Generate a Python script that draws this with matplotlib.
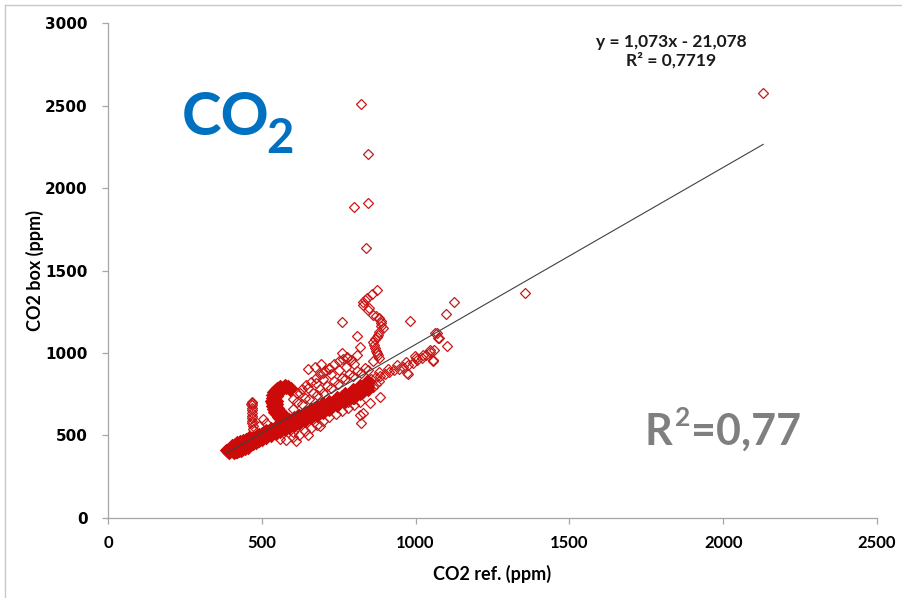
import matplotlib
matplotlib.use("Agg")
import matplotlib.pyplot as plt
from matplotlib.lines import Line2D

# --- data (CO2 ref. vs CO2 box, ppm) ---
band_x = [400, 400, 400, 410, 410, 410, 420, 420, 420, 430, 430, 430,
          440, 440, 440, 450, 450, 450, 460, 460, 460, 470, 470, 470,
          480, 480, 480, 490, 490, 490, 500, 500, 500, 515, 515, 515,
          530, 530, 530, 545, 545, 545, 560, 560, 560, 575, 575, 575,
          590, 590, 590, 605, 605, 605, 620, 620, 620, 640, 640, 640,
          660, 660, 660, 680, 680, 680, 700, 700, 700, 720, 720, 720,
          745, 745, 745, 770, 770, 770, 795, 795, 795, 820, 820, 820,
          845, 845, 845]
band_y = [405, 418, 432, 410, 424, 440, 414, 430, 447, 420, 437, 455,
          427, 445, 463, 433, 452, 472, 441, 460, 481, 449, 468, 490,
          456, 477, 499, 464, 486, 508, 472, 495, 518, 483, 508, 532,
          495, 520, 546, 507, 533, 559, 519, 546, 572, 532, 558, 585,
          545, 571, 598, 557, 584, 611, 570, 597, 624, 587, 614, 641,
          604, 631, 658, 621, 648, 676, 638, 666, 694, 656, 684, 712,
          678, 706, 734, 702, 730, 757, 727, 754, 781, 752, 779, 806,
          778, 805, 831]

band2_x = [400, 400, 410, 410, 420, 420, 430, 430, 440, 440, 450, 450,
           460, 460, 470, 470, 480, 480, 490, 490, 500, 500, 515, 515,
           530, 530, 545, 545, 560, 560, 575, 575, 590, 590, 605, 605,
           620, 620, 640, 640, 660, 660, 680, 680, 700, 700, 720, 720,
           745, 745, 770, 770, 795, 795, 820, 820, 845, 845,
           407, 425, 445, 465, 485, 508, 538, 568, 598, 630, 670, 710,
           733, 758, 783, 808, 833]
band2_y = [411, 425, 417, 432, 422, 438, 428, 446, 436, 454, 442, 462,
           450, 470, 458, 479, 466, 488, 475, 497, 483, 506, 495, 520,
           507, 533, 520, 546, 532, 559, 545, 571, 558, 584, 570, 597,
           583, 610, 600, 627, 617, 644, 634, 662, 652, 680, 670, 698,
           692, 720, 716, 743, 740, 767, 765, 792, 791, 818,
           420, 434, 449, 465, 482, 502, 527, 552, 578, 606, 640, 675,
           695, 718, 742, 766, 792]

base_x = [385, 390, 392, 395, 405, 415, 425, 435, 388, 398, 402, 412,
          420, 428, 395, 410, 420, 432, 445, 455, 438, 448, 458]
base_y = [410, 402, 420, 412, 398, 402, 408, 415, 415, 425, 440, 450,
          460, 465, 395, 395, 400, 405, 420, 425, 470, 480, 490]

hook_x = [590, 585, 578, 570, 562, 555, 549, 545, 542, 540, 539, 540,
          541, 543, 546, 550, 555, 561, 568, 576, 584, 580, 568, 556,
          550, 548, 550, 553, 560, 567, 575,
          592, 596, 586, 574, 560, 550, 543, 538, 534, 532, 531, 532,
          534, 537, 541, 546, 552, 560, 568, 577, 588, 596]
hook_y = [785, 792, 797, 796, 790, 782, 770, 756, 742, 728, 714, 700,
          686, 672, 658, 644, 630, 617, 604, 592, 580, 785, 784, 770,
          740, 710, 690, 668, 650, 635, 620,
          775, 790, 800, 805, 800, 790, 778, 765, 748, 730, 712, 694,
          676, 660, 645, 630, 615, 602, 590, 578, 572, 565]

column_x = [467, 469, 465, 467, 467, 467, 467, 467, 467, 467, 468, 472, 470]
column_y = [700, 695, 690, 682, 668, 652, 636, 620, 604, 589, 574, 556, 538]

fan_x = [490, 505, 515, 600, 615, 630, 640, 655, 665, 680, 690, 700, 712,
         725, 735, 748, 760, 772, 785, 798, 810, 822, 835, 845, 600, 625,
         650, 675, 700, 725, 750, 775, 800, 613, 630, 645, 660, 675, 690,
         705, 720, 735, 750, 765, 776, 650, 672, 692, 700, 720, 790, 810,
         760]
fan_y = [560, 600, 575, 660, 700, 690, 730, 720, 760, 745, 780, 760, 800,
         790, 830, 815, 850, 840, 875, 860, 890, 880, 910, 895, 720, 760,
         790, 820, 840, 870, 895, 915, 935, 756, 780, 805, 825, 848, 870,
         892, 912, 932, 950, 966, 978, 900, 918, 935, 880, 900, 960, 985,
         1000]

low_x = [760, 790, 830, 850, 870, 880, 884, 852, 830, 822, 819, 862, 800,
         780, 820, 560, 580, 600, 620, 640, 660, 680, 700, 610, 650, 690,
         600, 720, 740, 760, 780, 800]
low_y = [745, 760, 760, 790, 810, 830, 735, 697, 634, 574, 624, 796, 720,
         700, 700, 480, 470, 490, 505, 525, 545, 565, 585, 465, 500, 555,
         520, 610, 630, 650, 665, 685]

right_x = [841, 855, 870, 885, 900, 915, 930, 945, 960, 975, 990, 1005,
           1020, 1035, 1047, 880, 910, 940, 970, 1000, 1025, 1060, 976,
           971, 998, 1055, 1057, 1046]
right_y = [836, 845, 852, 862, 872, 882, 895, 905, 917, 928, 940, 955,
           970, 988, 1005, 885, 905, 925, 945, 970, 990, 1020, 873,
           877, 982, 953, 957, 1018]

upper_x = [873, 857, 841, 835, 828, 829, 846, 850, 862, 870, 881, 886,
           889, 888, 894, 881, 877, 873, 868, 862, 865, 868, 870, 873,
           878, 881, 862, 760, 810, 819, 776, 981, 1126, 1098, 1068, 1077,
           1101, 1063, 1074]
upper_y = [1382, 1357, 1331, 1320, 1311, 1291, 1260, 1275, 1230, 1222,
           1212, 1195, 1180, 1165, 1151, 1127, 1112, 1099, 1083, 1068,
           1050, 1030, 1015, 1000, 985, 970, 953, 1190, 1103, 1038, 970,
           1196, 1307, 1236, 1119, 1089, 1042, 1123, 1089]

outlier_x = [822, 845, 845, 800, 838, 1355, 2130]
outlier_y = [2509, 2205, 1912, 1885, 1638, 1365, 2575]

slope = 1.073
intercept = -21.078
equation = "y = 1,073x - 21,078"
r2_text = "R² = 0,7719"

x_ticks = [0, 500, 1000, 1500, 2000, 2500]
y_ticks = [0, 500, 1000, 1500, 2000, 2500, 3000]

# overplotted (dense) parts and sparse parts of the same series
dense_x = band_x + band2_x + base_x + hook_x
dense_y = band_y + band2_y + base_y + hook_y
sparse_x = column_x + fan_x + low_x + right_x + upper_x + outlier_x
sparse_y = column_y + fan_y + low_y + right_y + upper_y + outlier_y
all_x = dense_x + sparse_x

fig = plt.figure(figsize=(9.03, 5.98), dpi=100)
ax = fig.add_axes([0.1196, 0.1338, 0.8516, 0.8277])

ax.plot(sparse_x, sparse_y, linestyle="none", marker="D", ms=4.6,
        mfc="none", mec="#C81818", mew=0.9, zorder=2)
ax.plot(dense_x, dense_y, linestyle="none", marker="D", ms=4.6,
        mfc="none", mec="#CC0A0A", mew=1.8, zorder=2)

x0, x1 = min(all_x), max(all_x)
ax.plot([x0, x1], [slope * x0 + intercept, slope * x1 + intercept],
        color="#404040", lw=0.8, zorder=3)

ax.set_xlim(0, 2500)
ax.set_ylim(0, 3000)
ax.set_xticks(x_ticks)
ax.set_yticks(y_ticks)
for s in ("top", "right"):
    ax.spines[s].set_visible(False)
for s in ("left", "bottom"):
    ax.spines[s].set_color("#A6A6A6")
    ax.spines[s].set_linewidth(0.9)
ax.tick_params(axis="both", direction="out", length=4.5, width=0.9,
               color="#A6A6A6")
ax.tick_params(axis="y", pad=10)
ax.tick_params(axis="x", pad=8)
for lab in ax.get_yticklabels():
    lab.set_fontfamily("DejaVu Sans")
    lab.set_fontweight("bold")
    lab.set_fontsize(11)
for lab in ax.get_xticklabels():
    lab.set_fontfamily("Lato")
    lab.set_fontweight("bold")
    lab.set_fontsize(12)

ax.set_xlabel("CO2 ref. (ppm)", fontfamily="Lato", fontweight="bold",
              fontsize=13, labelpad=10)
ax.set_ylabel("CO2 box (ppm)", fontfamily="Lato", fontweight="bold",
              fontsize=13, labelpad=1)

# trendline label
fig.text(671 / 903, 1 - 42 / 598, equation, ha="center", va="center",
         fontfamily="Lato", fontweight="bold", fontsize=12.5, color="#1a1a1a")
fig.text(671 / 903, 1 - 60 / 598, r2_text, ha="center", va="center",
         fontfamily="Lato", fontweight="bold", fontsize=12.5, color="#1a1a1a")

# big annotations
fig.text(182 / 903, 1 - 135 / 598, "CO", ha="left", va="baseline",
         fontfamily="Lato", fontweight="bold", fontsize=43, color="#0070C0")
fig.text(266 / 903, 1 - 153 / 598, "2", ha="left", va="baseline",
         fontfamily="Lato", fontweight="bold", fontsize=34, color="#0070C0")

fig.text(644 / 903, 1 - 445 / 598, "R", ha="left", va="baseline",
         fontfamily="Lato", fontweight="bold", fontsize=31, color="#7F7F7F")
fig.text(675 / 903, 1 - 426 / 598, "2", ha="left", va="baseline",
         fontfamily="Lato", fontweight="bold", fontsize=19, color="#7F7F7F")
fig.text(691 / 903, 1 - 445 / 598, "=0,77", ha="left", va="baseline",
         fontfamily="Lato", fontweight="bold", fontsize=31, color="#7F7F7F")

# chart frame (only left and top edges visible in the crop)
fig.add_artist(Line2D([5 / 903, 5 / 903], [0, 1 - 5 / 598],
                      transform=fig.transFigure, color="#C8C8C8", lw=1))
fig.add_artist(Line2D([5 / 903, 1], [1 - 5 / 598, 1 - 5 / 598],
                      transform=fig.transFigure, color="#C8C8C8", lw=1))

fig.savefig("out.png", dpi=100)
